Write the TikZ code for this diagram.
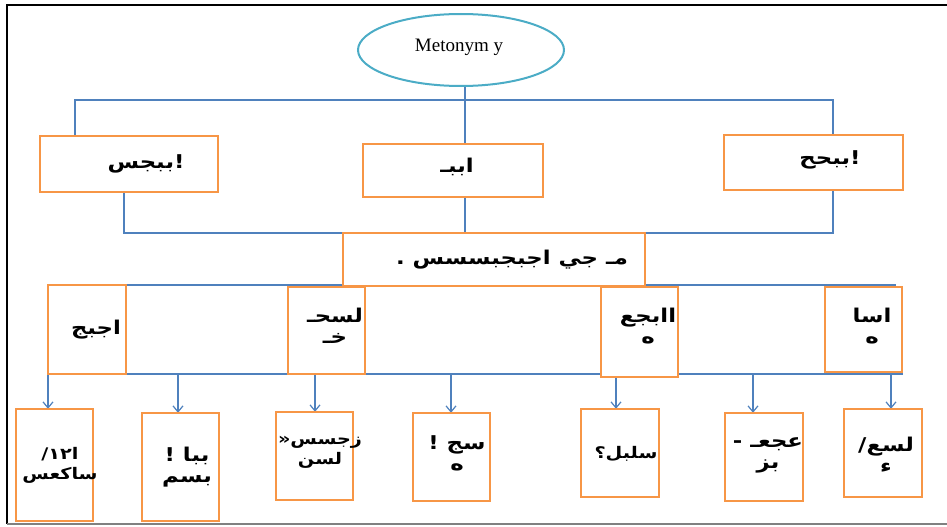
\documentclass[tikz,border=0pt]{standalone}
\usepackage{fontspec}
\setmainfont{Liberation Serif}
\newfontfamily\arabicfont[Script=Arabic]{DejaVu Sans}
\TeXXeTstate=1
\usetikzlibrary{arrows.meta,shapes.geometric}
\definecolor{orng}{RGB}{247,150,70}
\definecolor{lblue}{RGB}{79,129,189}
\definecolor{tealc}{RGB}{75,172,198}
\newcommand{\artxt}[1]{\scalebox{1.2}[1]{\arabicfont\bfseries\beginR #1\endR}}
\tikzset{
  box/.style={draw=orng, line width=2pt, fill=white, inner sep=0pt},
  conn/.style={draw=lblue, line width=1.3pt},
  arr/.style={draw=lblue, line width=1.2pt, -{Straight Barb[length=6pt,width=10pt]}},
  txt/.style={inner sep=0pt, align=center, font=\fontsize{19}{21}\selectfont},
  stxt/.style={txt, font=\fontsize{16}{20}\selectfont},
}
\begin{document}
\begin{tikzpicture}[x=1pt,y=-1pt]
\useasboundingbox (0,0) rectangle (947,527);
% frame
\draw[black, line width=2pt] (947,5) -- (7,5) -- (7,524);
\draw[gray, line width=2pt] (7,524) -- (947,524);

% ellipse
\node[ellipse, draw=tealc, line width=2pt, fill=white, minimum width=206, minimum height=72, inner sep=0pt] (E) at (461,50) {};
\node[inner sep=0pt, font=\fontsize{19}{20}\selectfont] (tE) at (459,47) {Metonym y};

% coordinates for connectors
\coordinate (h1) at (75,100);
\coordinate (h2) at (833,100);
\coordinate (vm) at (465,100);
\coordinate (j1) at (124,233);
\coordinate (j2) at (833,233);
\coordinate (k1) at (105,285);
\coordinate (k2) at (896,285);
\coordinate (m1) at (48,374);
\coordinate (m2) at (903,374);
\coordinate (a1) at (48,374);
\coordinate (a2) at (178,374);
\coordinate (a3) at (315,374);
\coordinate (a4) at (451,374);
\coordinate (a5) at (616,374);
\coordinate (a6) at (753,374);
\coordinate (a7) at (891,374);

% box anchors
\path (129,164) node[minimum width=178, minimum height=56, inner sep=0pt] (L1) {};
\path (453,170.5) node[minimum width=180, minimum height=53, inner sep=0pt] (M1) {};
\path (813.5,162.5) node[minimum width=179, minimum height=55, inner sep=0pt] (R1) {};
\path (494,259.5) node[minimum width=302, minimum height=53, inner sep=0pt] (C) {};
\path (87,329.5) node[minimum width=78, minimum height=89, inner sep=0pt] (B1) {};
\path (326.5,330.5) node[minimum width=77, minimum height=87, inner sep=0pt] (B2) {};
\path (639.5,332) node[minimum width=77, minimum height=90, inner sep=0pt] (B3) {};
\path (863.5,329.5) node[minimum width=77, minimum height=85, inner sep=0pt] (B4) {};
\path (54.5,465) node[minimum width=77, minimum height=112, inner sep=0pt] (D1) {};
\path (180.5,467) node[minimum width=77, minimum height=108, inner sep=0pt] (D2) {};
\path (314.5,456) node[minimum width=77, minimum height=88, inner sep=0pt] (D3) {};
\path (451.5,457) node[minimum width=77, minimum height=88, inner sep=0pt] (D4) {};
\path (620,453) node[minimum width=78, minimum height=88, inner sep=0pt] (D5) {};
\path (764,457) node[minimum width=78, minimum height=88, inner sep=0pt] (D6) {};
\path (883,453) node[minimum width=78, minimum height=88, inner sep=0pt] (D7) {};

% connectors
\draw[conn] (h1 |- L1.north) -- (h1) -- (h2) -- (h2 |- R1.north);
\draw[conn] (vm |- E.south) -- (vm |- M1.north);
\draw[conn] (j1 |- L1.south) -- (j1) -- (j2) -- (j2 |- R1.south);
\draw[conn] (vm |- M1.south) -- (vm |- C.north);
\draw[conn] (k1) -- (k2);
\draw[conn] (m1) -- (m2);
\draw[arr] (a1) -- (a1 |- D1.north);
\draw[arr] (a2) -- (a2 |- D2.north);
\draw[arr] (a3) -- (a3 |- D3.north);
\draw[arr] (a4) -- (a4 |- D4.north);
\draw[arr] (a5) -- (a5 |- D5.north);
\draw[arr] (a6) -- (a6 |- D6.north);
\draw[arr] (a7) -- (a7 |- D7.north);

% visible boxes
\foreach \n in {L1,M1,R1,C,B1,B2,B3,B4,D1,D2,D3,D4,D5,D6,D7}
  \draw[box] (\n.south west) rectangle (\n.north east);

% texts
\node[txt] (tL1) at (146,164) {\artxt{!ببجس}};
\node[txt] (tM1) at (457,167) {\artxt{اببـ}};
\node[txt] (tR1) at (830,160) {\artxt{!ببحح}};
\node[txt] (tC) at (512,260) {\artxt{مـ جي اجبجبسسس .}};
\node[txt] (tB1) at (96,330) {\artxt{اجبج}};
\node[txt] (tB2) at (335,326) {\artxt{لسحـ}\\\artxt{خـ}};
\node[txt] (tB3) at (648,326) {\artxt{اابجع}\\\artxt{ه}};
\node[txt] (tB4) at (872,326) {\artxt{اسا}\\\artxt{ه}};
\node[stxt] (tD1) at (60,465) {\artxt{ا١٢/}\\\artxt{ساكعس}};
\node[txt] (tD2) at (187,467) {\artxt{ببا !}\\\artxt{بسم}};
\node[stxt] (tD3) at (320,452) {\artxt{زجسس«}\\\artxt{لسن}};
\node[txt] (tD4) at (457,453) {\artxt{سج !}\\\artxt{ه}};
\node[stxt] (tD5) at (626,454) {\artxt{سلبل؟}};
\node[txt] (tD6) at (768,455) {\artxt{عجعـ -}\\\artxt{بز}};
\node[txt] (tD7) at (886,455) {\artxt{لسع/}\\\artxt{ء}};
\end{tikzpicture}
\end{document}
